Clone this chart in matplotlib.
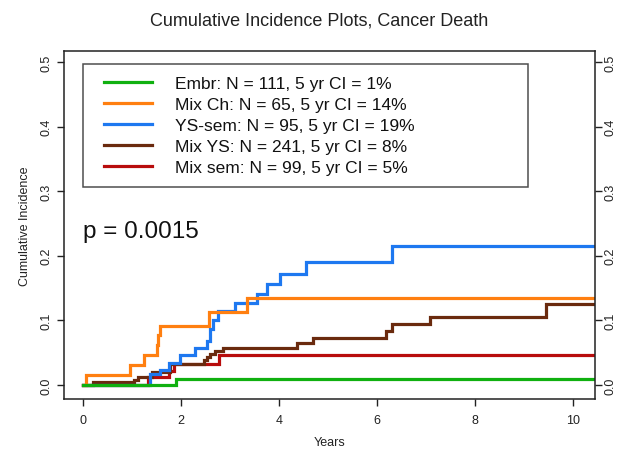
import matplotlib
matplotlib.use("Agg")
import matplotlib.pyplot as plt
from matplotlib.legend_handler import HandlerLine2D
from matplotlib.lines import Line2D

plt.rcParams['font.family'] = ['Liberation Sans', 'DejaVu Sans']

# ---- data ----
end_time = 10.5

embr_t = [0, 1.90]
embr_v = [0, 0.010]

mixch_t = [0, 0.05, 0.95, 1.25, 1.50, 1.53, 1.56, 2.58, 3.34]
mixch_v = [0, 0.015, 0.031, 0.047, 0.062, 0.077, 0.091, 0.113, 0.135]

yssem_t = [0, 1.36, 1.57, 1.76, 1.98, 2.29, 2.52, 2.59, 2.66, 2.76, 3.10, 3.54, 3.76, 4.02, 4.56, 6.30]
yssem_v = [0, 0.017, 0.023, 0.034, 0.046, 0.058, 0.068, 0.087, 0.100, 0.114, 0.127, 0.141, 0.156, 0.172, 0.190, 0.215]

mixys_t = [0, 0.20, 1.03, 1.13, 1.40, 1.78, 2.46, 2.52, 2.59, 2.69, 2.86, 4.36, 4.69, 6.18, 6.31, 7.08, 9.45]
mixys_v = [0, 0.004, 0.008, 0.012, 0.020, 0.032, 0.038, 0.043, 0.048, 0.052, 0.057, 0.065, 0.072, 0.083, 0.094, 0.105, 0.126]

mixsem_t = [0, 1.33, 1.76, 1.86, 2.78]
mixsem_v = [0, 0.012, 0.022, 0.032, 0.046]

labels = ["Embr: N = 111, 5 yr CI = 1%",
          "Mix Ch: N = 65, 5 yr CI = 14%",
          "YS-sem: N = 95, 5 yr CI = 19%",
          "Mix YS: N = 241, 5 yr CI = 8%",
          "Mix sem: N = 99, 5 yr CI = 5%"]
colors = ["#10B010", "#FF7F10", "#1E78F0", "#6A2A0E", "#B80C0C"]

x_ticks = [0, 2, 4, 6, 8, 10]
y_ticks = [0.0, 0.1, 0.2, 0.3, 0.4, 0.5]
y_tick_labels = ["0.0", "0.1", "0.2", "0.3", "0.4", "0.5"]

title = "Cumulative Incidence Plots, Cancer Death"
p_text = "p = 0.0015"

# ---- figure ----
fig = plt.figure(figsize=(6.25, 4.52), dpi=100)
ax = fig.add_axes([64/625, 1-400/452, (595-64)/625, (400-52)/452])

series = [(embr_t, embr_v), (mixch_t, mixch_v), (yssem_t, yssem_v),
          (mixys_t, mixys_v), (mixsem_t, mixsem_v)]
order = [4, 3, 2, 1, 0]
handles = [None]*5
for i in order:
    t, v = series[i]
    tt = list(t) + [end_time]
    vv = list(v) + [v[-1]]
    h, = ax.step(tt, vv, where='post', color=colors[i], lw=2.3,
                 solid_joinstyle='miter', label=labels[i])
    handles[i] = h

ax.set_xlim(-0.39, 10.45)
ax.set_ylim(-0.0217, 0.517)
ax.set_xticks(x_ticks)
ax.set_xticklabels([str(x) for x in x_ticks])
ax.set_yticks(y_ticks)
ax.set_yticklabels(y_tick_labels)
ax.tick_params(axis='both', direction='out', length=5, width=1, labelsize=9,
               labelcolor='#222222', color='#222222')
ax.tick_params(axis='y', labelrotation=90, pad=3)
ax.tick_params(axis='x', pad=6)
for lab in ax.get_yticklabels():
    lab.set_va('center')

sec = ax.secondary_yaxis('right')
sec.set_yticks(y_ticks)
sec.set_yticklabels(y_tick_labels)
sec.tick_params(axis='y', direction='out', length=5, width=1, labelsize=9,
                labelcolor='#222222', color='#222222', labelrotation=90, pad=2)
for lab in sec.get_yticklabels():
    lab.set_va('center')
sec.spines['right'].set_visible(False)

for s in ax.spines.values():
    s.set_linewidth(1.1)
    s.set_color('#222222')

ax.set_xlabel("Years", fontsize=9, labelpad=7, color='#222222')
ax.set_ylabel("Cumulative Incidence", fontsize=9, labelpad=7, color='#222222')

fig.text(319/625, 1-21/452, title, ha='center', va='center', fontsize=13,
         color='#222222')

ax.text(0.035, (400-238)/348, p_text, transform=ax.transAxes,
        fontsize=17.5, ha='left', va='baseline', color='#111111')

fs_pt = 12.5
fs_px = fs_pt * 100 / 72
bpad = 0.7
b_px = bpad * fs_px
xpad = (104 - 82.7 - b_px) / fs_px
leg = ax.legend(handles=handles, labels=labels, loc='upper left',
                bbox_to_anchor=(0.035, 0.963, (528-82.7)/531, 0.0),
                mode='expand', fontsize=fs_pt, frameon=True, fancybox=False,
                edgecolor='#222222', handlelength=(152-82.7-b_px)/fs_px,
                handletextpad=23/fs_px, labelspacing=0.33, borderpad=bpad,
                borderaxespad=0.0,
                handler_map={Line2D: HandlerLine2D(xpad=xpad)})
leg.get_frame().set_linewidth(1.1)
for t in leg.get_texts():
    t.set_color('#111111')

fig.savefig("out.png", dpi=100)
